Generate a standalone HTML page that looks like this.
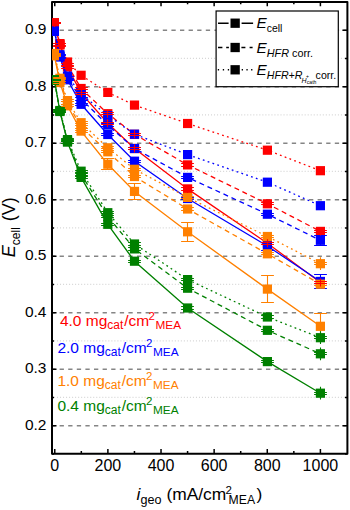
<!DOCTYPE html>
<html><head><meta charset="utf-8">
<style>
html,body{margin:0;padding:0;background:#fff;}
body{width:350px;height:510px;overflow:hidden;position:relative;}
svg{position:absolute;left:0;top:0;}
text{font-family:"Liberation Sans",sans-serif;}
</style></head><body>
<svg width="350" height="510" viewBox="0 0 350 510">
<defs><clipPath id="pc"><rect x="52" y="2" width="295.4" height="451.8"/></clipPath></defs>
<rect width="350" height="510" fill="#fff"/>
<line x1="51" y1="425.7" x2="346.4" y2="425.7" stroke="#858585" stroke-width="1.5" stroke-dasharray="4.3,4.3"/>
<line x1="51" y1="369.2" x2="346.4" y2="369.2" stroke="#858585" stroke-width="1.5" stroke-dasharray="4.3,4.3"/>
<line x1="51" y1="312.7" x2="346.4" y2="312.7" stroke="#858585" stroke-width="1.5" stroke-dasharray="4.3,4.3"/>
<line x1="51" y1="256.2" x2="346.4" y2="256.2" stroke="#858585" stroke-width="1.5" stroke-dasharray="4.3,4.3"/>
<line x1="51" y1="199.7" x2="346.4" y2="199.7" stroke="#858585" stroke-width="1.5" stroke-dasharray="4.3,4.3"/>
<line x1="51" y1="143.2" x2="346.4" y2="143.2" stroke="#858585" stroke-width="1.5" stroke-dasharray="4.3,4.3"/>
<line x1="51" y1="86.7" x2="346.4" y2="86.7" stroke="#858585" stroke-width="1.5" stroke-dasharray="4.3,4.3"/>
<line x1="51" y1="30.2" x2="346.4" y2="30.2" stroke="#858585" stroke-width="1.5" stroke-dasharray="4.3,4.3"/>
<line x1="54" y1="397.45" x2="346.4" y2="397.45" stroke="#d6d6d6" stroke-width="1.2" stroke-dasharray="1,2.02"/>
<line x1="54" y1="340.95" x2="346.4" y2="340.95" stroke="#d6d6d6" stroke-width="1.2" stroke-dasharray="1,2.02"/>
<line x1="54" y1="284.45" x2="346.4" y2="284.45" stroke="#d6d6d6" stroke-width="1.2" stroke-dasharray="1,2.02"/>
<line x1="54" y1="227.95" x2="346.4" y2="227.95" stroke="#d6d6d6" stroke-width="1.2" stroke-dasharray="1,2.02"/>
<line x1="54" y1="171.45" x2="346.4" y2="171.45" stroke="#d6d6d6" stroke-width="1.2" stroke-dasharray="1,2.02"/>
<line x1="54" y1="114.95" x2="346.4" y2="114.95" stroke="#d6d6d6" stroke-width="1.2" stroke-dasharray="1,2.02"/>
<line x1="54" y1="58.45" x2="346.4" y2="58.45" stroke="#d6d6d6" stroke-width="1.2" stroke-dasharray="1,2.02"/>
<rect x="52" y="2" width="295.4" height="451.8" fill="none" stroke="#000" stroke-width="2" stroke-linejoin="round"/><path d="M54.76 453.8v-4.7M54.76 2v4.3M81.32 453.8v-2.8M81.32 2v2.2M107.89 453.8v-4.7M107.89 2v4.3M134.45 453.8v-2.8M134.45 2v2.2M161.02 453.8v-4.7M161.02 2v4.3M187.58 453.8v-2.8M187.58 2v2.2M214.14 453.8v-4.7M214.14 2v4.3M240.71 453.8v-2.8M240.71 2v2.2M267.27 453.8v-4.7M267.27 2v4.3M293.84 453.8v-2.8M293.84 2v2.2M320.4 453.8v-4.7M320.4 2v4.3M52 453.95h2M347.4 453.95h-2.4M52 425.7h4.5M347.4 425.7h-5M52 397.45h2M347.4 397.45h-2.4M52 369.2h4.5M347.4 369.2h-5M52 340.95h2M347.4 340.95h-2.4M52 312.7h4.5M347.4 312.7h-5M52 284.45h2M347.4 284.45h-2.4M52 256.2h4.5M347.4 256.2h-5M52 227.95h2M347.4 227.95h-2.4M52 199.7h4.5M347.4 199.7h-5M52 171.45h2M347.4 171.45h-2.4M52 143.2h4.5M347.4 143.2h-5M52 114.95h2M347.4 114.95h-2.4M52 86.7h4.5M347.4 86.7h-5M52 58.45h2M347.4 58.45h-2.4M52 30.2h4.5M347.4 30.2h-5" stroke="#000" stroke-width="1.5" fill="none"/>
<g clip-path="url(#pc)">
<polyline points="54.4,22.9 59.9,43.6 67.5,62 81.1,75.3 107.8,92.4 134.5,105.1 187.6,123.5 267.4,150.2 320.4,170.7" fill="none" stroke="#ff0000" stroke-width="1.3" stroke-dasharray="1.8,3.3"/>
<polyline points="54.4,22.9 59.9,44.3 67.5,65 81.1,88.5 107.8,113.7 134.5,134.3 187.6,164.9 267.4,203.8 320.4,231.4" fill="none" stroke="#ff0000" stroke-width="1.3" stroke-dasharray="5,3.8"/>
<polyline points="54.4,23 59.9,45 67.5,67 81.1,93.1 107.8,123.3 134.5,148.5 187.6,188.9 267.4,243.2 320.4,282.45" fill="none" stroke="#ff0000" stroke-width="1.3"/>
<rect x="49.8" y="18.3" width="9.2" height="9.2" fill="#ff0000"/>
<rect x="55.3" y="39" width="9.2" height="9.2" fill="#ff0000"/>
<rect x="62.9" y="57.4" width="9.2" height="9.2" fill="#ff0000"/>
<rect x="76.5" y="70.7" width="9.2" height="9.2" fill="#ff0000"/>
<rect x="103.2" y="87.8" width="9.2" height="9.2" fill="#ff0000"/>
<rect x="129.9" y="100.5" width="9.2" height="9.2" fill="#ff0000"/>
<rect x="183" y="118.9" width="9.2" height="9.2" fill="#ff0000"/>
<rect x="262.8" y="145.6" width="9.2" height="9.2" fill="#ff0000"/>
<rect x="315.8" y="166.1" width="9.2" height="9.2" fill="#ff0000"/>
<rect x="49.8" y="18.3" width="9.2" height="9.2" fill="#ff0000"/>
<rect x="55.3" y="39.7" width="9.2" height="9.2" fill="#ff0000"/>
<rect x="62.9" y="60.4" width="9.2" height="9.2" fill="#ff0000"/>
<rect x="76.5" y="83.9" width="9.2" height="9.2" fill="#ff0000"/>
<rect x="103.2" y="109.1" width="9.2" height="9.2" fill="#ff0000"/>
<rect x="129.9" y="129.7" width="9.2" height="9.2" fill="#ff0000"/>
<rect x="183" y="160.3" width="9.2" height="9.2" fill="#ff0000"/>
<rect x="262.8" y="199.2" width="9.2" height="9.2" fill="#ff0000"/>
<rect x="315.8" y="226.8" width="9.2" height="9.2" fill="#ff0000"/>
<rect x="49.8" y="18.4" width="9.2" height="9.2" fill="#ff0000"/>
<rect x="55.3" y="40.4" width="9.2" height="9.2" fill="#ff0000"/>
<rect x="62.9" y="62.4" width="9.2" height="9.2" fill="#ff0000"/>
<rect x="76.5" y="88.5" width="9.2" height="9.2" fill="#ff0000"/>
<rect x="103.2" y="118.7" width="9.2" height="9.2" fill="#ff0000"/>
<rect x="129.9" y="143.9" width="9.2" height="9.2" fill="#ff0000"/>
<rect x="183" y="184.3" width="9.2" height="9.2" fill="#ff0000"/>
<rect x="262.8" y="238.6" width="9.2" height="9.2" fill="#ff0000"/>
<rect x="315.8" y="277.85" width="9.2" height="9.2" fill="#ff0000"/>
<polyline points="54.4,31.3 59.9,54.7 67.5,76.1 81.1,94 107.8,115.6 134.5,134.2 187.6,154.6 267.4,182.2 320.4,205.7" fill="none" stroke="#0000ff" stroke-width="1.3" stroke-dasharray="1.8,3.3"/>
<polyline points="54.4,31.3 59.9,56 67.5,78 81.1,99 107.8,125 134.5,148.5 187.6,177.4 267.4,214.2 320.4,240.3" fill="none" stroke="#0000ff" stroke-width="1.3" stroke-dasharray="5,3.8"/>
<polyline points="54.4,31.3 59.9,57 67.5,79.8 81.1,104.3 107.8,134.5 134.5,161.2 187.6,198.5 267.4,246 320.4,281.45" fill="none" stroke="#0000ff" stroke-width="1.3"/>
<rect x="49.8" y="26.7" width="9.2" height="9.2" fill="#0000ff"/>
<rect x="55.3" y="50.1" width="9.2" height="9.2" fill="#0000ff"/>
<rect x="62.9" y="71.5" width="9.2" height="9.2" fill="#0000ff"/>
<rect x="76.5" y="89.4" width="9.2" height="9.2" fill="#0000ff"/>
<rect x="103.2" y="111" width="9.2" height="9.2" fill="#0000ff"/>
<rect x="129.9" y="129.6" width="9.2" height="9.2" fill="#0000ff"/>
<rect x="183" y="150" width="9.2" height="9.2" fill="#0000ff"/>
<rect x="262.8" y="177.6" width="9.2" height="9.2" fill="#0000ff"/>
<rect x="315.8" y="201.1" width="9.2" height="9.2" fill="#0000ff"/>
<rect x="49.8" y="26.7" width="9.2" height="9.2" fill="#0000ff"/>
<rect x="55.3" y="51.4" width="9.2" height="9.2" fill="#0000ff"/>
<rect x="62.9" y="73.4" width="9.2" height="9.2" fill="#0000ff"/>
<rect x="76.5" y="94.4" width="9.2" height="9.2" fill="#0000ff"/>
<rect x="103.2" y="120.4" width="9.2" height="9.2" fill="#0000ff"/>
<rect x="129.9" y="143.9" width="9.2" height="9.2" fill="#0000ff"/>
<rect x="183" y="172.8" width="9.2" height="9.2" fill="#0000ff"/>
<rect x="262.8" y="209.6" width="9.2" height="9.2" fill="#0000ff"/>
<rect x="315.8" y="235.7" width="9.2" height="9.2" fill="#0000ff"/>
<rect x="49.8" y="26.7" width="9.2" height="9.2" fill="#0000ff"/>
<rect x="55.3" y="52.4" width="9.2" height="9.2" fill="#0000ff"/>
<rect x="62.9" y="75.2" width="9.2" height="9.2" fill="#0000ff"/>
<rect x="76.5" y="99.7" width="9.2" height="9.2" fill="#0000ff"/>
<rect x="103.2" y="129.9" width="9.2" height="9.2" fill="#0000ff"/>
<rect x="129.9" y="156.6" width="9.2" height="9.2" fill="#0000ff"/>
<rect x="183" y="193.9" width="9.2" height="9.2" fill="#0000ff"/>
<rect x="262.8" y="241.4" width="9.2" height="9.2" fill="#0000ff"/>
<rect x="315.8" y="276.85" width="9.2" height="9.2" fill="#0000ff"/>
<path d="M59.5 54.5V57.5M53.1 54.5h12.8M53.1 57.5h12.8" stroke="#0000ff" stroke-width="1.1" fill="none"/>
<path d="M67.5 76.5V79.5M61.1 76.5h12.8M61.1 79.5h12.8" stroke="#0000ff" stroke-width="1.1" fill="none"/>
<path d="M81.5 97.5V100.5M75.1 97.5h12.8M75.1 100.5h12.8" stroke="#0000ff" stroke-width="1.1" fill="none"/>
<path d="M107.5 123.5V126.5M101.1 123.5h12.8M101.1 126.5h12.8" stroke="#0000ff" stroke-width="1.1" fill="none"/>
<path d="M134.5 147.5V149.5M128.1 147.5h12.8M128.1 149.5h12.8" stroke="#0000ff" stroke-width="1.1" fill="none"/>
<path d="M187.5 176.5V178.5M181.1 176.5h12.8M181.1 178.5h12.8" stroke="#0000ff" stroke-width="1.1" fill="none"/>
<path d="M267.5 213.5V215.5M261.1 213.5h12.8M261.1 215.5h12.8" stroke="#0000ff" stroke-width="1.1" fill="none"/>
<path d="M320.5 235.5V245.5M314.1 235.5h12.8M314.1 245.5h12.8" stroke="#0000ff" stroke-width="1.1" fill="none"/>
<path d="M59.5 55.5V58.5M53.1 55.5h12.8M53.1 58.5h12.8" stroke="#0000ff" stroke-width="1.1" fill="none"/>
<path d="M67.5 78.5V80.5M61.1 78.5h12.8M61.1 80.5h12.8" stroke="#0000ff" stroke-width="1.1" fill="none"/>
<path d="M81.5 103.5V105.5M75.1 103.5h12.8M75.1 105.5h12.8" stroke="#0000ff" stroke-width="1.1" fill="none"/>
<path d="M107.5 133.5V135.5M101.1 133.5h12.8M101.1 135.5h12.8" stroke="#0000ff" stroke-width="1.1" fill="none"/>
<path d="M134.5 160.5V162.5M128.1 160.5h12.8M128.1 162.5h12.8" stroke="#0000ff" stroke-width="1.1" fill="none"/>
<path d="M187.5 197.5V199.5M181.1 197.5h12.8M181.1 199.5h12.8" stroke="#0000ff" stroke-width="1.1" fill="none"/>
<path d="M267.5 242.5V250.5M261.1 242.5h12.8M261.1 250.5h12.8" stroke="#0000ff" stroke-width="1.1" fill="none"/>
<path d="M320.5 274.5V288.5M314.1 274.5h12.8M314.1 288.5h12.8" stroke="#0000ff" stroke-width="1.1" fill="none"/>
<polyline points="54.4,53.5 59.9,78.3 67.5,100.6 81.1,122.7 107.8,147.8 134.5,169.3 187.6,197.4 267.4,236.5 320.4,263.7" fill="none" stroke="#ff8000" stroke-width="1.3" stroke-dasharray="1.8,3.3"/>
<polyline points="54.4,55 59.9,80 67.5,103 81.1,127 107.8,151.8 134.5,176.5 187.6,209 267.4,253.8 320.4,284.2" fill="none" stroke="#ff8000" stroke-width="1.3" stroke-dasharray="5,3.8"/>
<polyline points="54.4,55.8 59.9,82.5 67.5,105.8 81.1,131.1 107.8,164.2 134.5,191.4 187.6,231.8 267.4,289.1 320.4,326.3" fill="none" stroke="#ff8000" stroke-width="1.3"/>
<rect x="49.8" y="48.9" width="9.2" height="9.2" fill="#ff8000"/>
<rect x="55.3" y="73.7" width="9.2" height="9.2" fill="#ff8000"/>
<rect x="62.9" y="96" width="9.2" height="9.2" fill="#ff8000"/>
<rect x="76.5" y="118.1" width="9.2" height="9.2" fill="#ff8000"/>
<rect x="103.2" y="143.2" width="9.2" height="9.2" fill="#ff8000"/>
<rect x="129.9" y="164.7" width="9.2" height="9.2" fill="#ff8000"/>
<rect x="183" y="192.8" width="9.2" height="9.2" fill="#ff8000"/>
<rect x="262.8" y="231.9" width="9.2" height="9.2" fill="#ff8000"/>
<rect x="315.8" y="259.1" width="9.2" height="9.2" fill="#ff8000"/>
<rect x="49.8" y="50.4" width="9.2" height="9.2" fill="#ff8000"/>
<rect x="55.3" y="75.4" width="9.2" height="9.2" fill="#ff8000"/>
<rect x="62.9" y="98.4" width="9.2" height="9.2" fill="#ff8000"/>
<rect x="76.5" y="122.4" width="9.2" height="9.2" fill="#ff8000"/>
<rect x="103.2" y="147.2" width="9.2" height="9.2" fill="#ff8000"/>
<rect x="129.9" y="171.9" width="9.2" height="9.2" fill="#ff8000"/>
<rect x="183" y="204.4" width="9.2" height="9.2" fill="#ff8000"/>
<rect x="262.8" y="249.2" width="9.2" height="9.2" fill="#ff8000"/>
<rect x="315.8" y="279.6" width="9.2" height="9.2" fill="#ff8000"/>
<rect x="49.8" y="51.2" width="9.2" height="9.2" fill="#ff8000"/>
<rect x="55.3" y="77.9" width="9.2" height="9.2" fill="#ff8000"/>
<rect x="62.9" y="101.2" width="9.2" height="9.2" fill="#ff8000"/>
<rect x="76.5" y="126.5" width="9.2" height="9.2" fill="#ff8000"/>
<rect x="103.2" y="159.6" width="9.2" height="9.2" fill="#ff8000"/>
<rect x="129.9" y="186.8" width="9.2" height="9.2" fill="#ff8000"/>
<rect x="183" y="227.2" width="9.2" height="9.2" fill="#ff8000"/>
<rect x="262.8" y="284.5" width="9.2" height="9.2" fill="#ff8000"/>
<rect x="315.8" y="321.7" width="9.2" height="9.2" fill="#ff8000"/>
<polyline points="54.4,80 59.9,110.5 67.5,139.6 81.1,171.2 107.8,212.7 134.5,244 187.6,279.6 267.4,317 320.4,337.7" fill="none" stroke="#008000" stroke-width="1.3" stroke-dasharray="1.8,3.3"/>
<polyline points="54.4,80 59.9,111 67.5,140.8 81.1,174.5 107.8,216.5 134.5,248.9 187.6,288.2 267.4,330.3 320.4,353.8" fill="none" stroke="#008000" stroke-width="1.3" stroke-dasharray="5,3.8"/>
<polyline points="54.4,80 59.9,111.5 67.5,142.1 81.1,177.4 107.8,224.3 134.5,261.2 187.6,308 267.4,361.6 320.4,393.2" fill="none" stroke="#008000" stroke-width="1.3"/>
<rect x="49.8" y="75.4" width="9.2" height="9.2" fill="#008000"/>
<rect x="55.3" y="105.9" width="9.2" height="9.2" fill="#008000"/>
<rect x="62.9" y="135" width="9.2" height="9.2" fill="#008000"/>
<rect x="76.5" y="166.6" width="9.2" height="9.2" fill="#008000"/>
<rect x="103.2" y="208.1" width="9.2" height="9.2" fill="#008000"/>
<rect x="129.9" y="239.4" width="9.2" height="9.2" fill="#008000"/>
<rect x="183" y="275" width="9.2" height="9.2" fill="#008000"/>
<rect x="262.8" y="312.4" width="9.2" height="9.2" fill="#008000"/>
<rect x="315.8" y="333.1" width="9.2" height="9.2" fill="#008000"/>
<rect x="49.8" y="75.4" width="9.2" height="9.2" fill="#008000"/>
<rect x="55.3" y="106.4" width="9.2" height="9.2" fill="#008000"/>
<rect x="62.9" y="136.2" width="9.2" height="9.2" fill="#008000"/>
<rect x="76.5" y="169.9" width="9.2" height="9.2" fill="#008000"/>
<rect x="103.2" y="211.9" width="9.2" height="9.2" fill="#008000"/>
<rect x="129.9" y="244.3" width="9.2" height="9.2" fill="#008000"/>
<rect x="183" y="283.6" width="9.2" height="9.2" fill="#008000"/>
<rect x="262.8" y="325.7" width="9.2" height="9.2" fill="#008000"/>
<rect x="315.8" y="349.2" width="9.2" height="9.2" fill="#008000"/>
<rect x="49.8" y="75.4" width="9.2" height="9.2" fill="#008000"/>
<rect x="55.3" y="106.9" width="9.2" height="9.2" fill="#008000"/>
<rect x="62.9" y="137.5" width="9.2" height="9.2" fill="#008000"/>
<rect x="76.5" y="172.8" width="9.2" height="9.2" fill="#008000"/>
<rect x="103.2" y="219.7" width="9.2" height="9.2" fill="#008000"/>
<rect x="129.9" y="256.6" width="9.2" height="9.2" fill="#008000"/>
<rect x="183" y="303.4" width="9.2" height="9.2" fill="#008000"/>
<rect x="262.8" y="357" width="9.2" height="9.2" fill="#008000"/>
<rect x="315.8" y="388.6" width="9.2" height="9.2" fill="#008000"/>
<path d="M54.5 53.5V53.5M48.1 53.5h12.8M48.1 53.5h12.8" stroke="#ff8000" stroke-width="1.1" fill="none"/>
<path d="M59.5 77.5V79.5M53.1 77.5h12.8M53.1 79.5h12.8" stroke="#ff8000" stroke-width="1.1" fill="none"/>
<path d="M67.5 99.5V101.5M61.1 99.5h12.8M61.1 101.5h12.8" stroke="#ff8000" stroke-width="1.1" fill="none"/>
<path d="M81.5 121.5V123.5M75.1 121.5h12.8M75.1 123.5h12.8" stroke="#ff8000" stroke-width="1.1" fill="none"/>
<path d="M107.5 146.5V148.5M101.1 146.5h12.8M101.1 148.5h12.8" stroke="#ff8000" stroke-width="1.1" fill="none"/>
<path d="M134.5 168.5V170.5M128.1 168.5h12.8M128.1 170.5h12.8" stroke="#ff8000" stroke-width="1.1" fill="none"/>
<path d="M187.5 196.5V198.5M181.1 196.5h12.8M181.1 198.5h12.8" stroke="#ff8000" stroke-width="1.1" fill="none"/>
<path d="M267.5 235.5V237.5M261.1 235.5h12.8M261.1 237.5h12.8" stroke="#ff8000" stroke-width="1.1" fill="none"/>
<path d="M320.5 262.5V264.5M314.1 262.5h12.8M314.1 264.5h12.8M320.5 257.3v12.8" stroke="#ff8000" stroke-width="1.1" fill="none"/>
<path d="M54.5 54.5V55.5M48.1 54.5h12.8M48.1 55.5h12.8" stroke="#ff8000" stroke-width="1.1" fill="none"/>
<path d="M59.5 78.5V81.5M53.1 78.5h12.8M53.1 81.5h12.8" stroke="#ff8000" stroke-width="1.1" fill="none"/>
<path d="M67.5 101.5V104.5M61.1 101.5h12.8M61.1 104.5h12.8" stroke="#ff8000" stroke-width="1.1" fill="none"/>
<path d="M81.5 125.5V128.5M75.1 125.5h12.8M75.1 128.5h12.8" stroke="#ff8000" stroke-width="1.1" fill="none"/>
<path d="M107.5 150.5V152.5M101.1 150.5h12.8M101.1 152.5h12.8" stroke="#ff8000" stroke-width="1.1" fill="none"/>
<path d="M134.5 175.5V177.5M128.1 175.5h12.8M128.1 177.5h12.8" stroke="#ff8000" stroke-width="1.1" fill="none"/>
<path d="M187.5 207.5V210.5M181.1 207.5h12.8M181.1 210.5h12.8" stroke="#ff8000" stroke-width="1.1" fill="none"/>
<path d="M267.5 252.5V254.5M261.1 252.5h12.8M261.1 254.5h12.8" stroke="#ff8000" stroke-width="1.1" fill="none"/>
<path d="M320.5 283.5V285.5M314.1 283.5h12.8M314.1 285.5h12.8" stroke="#ff8000" stroke-width="1.1" fill="none"/>
<path d="M54.5 55.5V56.5M48.1 55.5h12.8M48.1 56.5h12.8" stroke="#ff8000" stroke-width="1.1" fill="none"/>
<path d="M59.5 81.5V83.5M53.1 81.5h12.8M53.1 83.5h12.8" stroke="#ff8000" stroke-width="1.1" fill="none"/>
<path d="M67.5 104.5V106.5M61.1 104.5h12.8M61.1 106.5h12.8" stroke="#ff8000" stroke-width="1.1" fill="none"/>
<path d="M81.5 130.5V132.5M75.1 130.5h12.8M75.1 132.5h12.8" stroke="#ff8000" stroke-width="1.1" fill="none"/>
<path d="M107.5 158.5V169.5M101.1 158.5h12.8M101.1 169.5h12.8" stroke="#ff8000" stroke-width="1.1" fill="none"/>
<path d="M134.5 183.5V199.5M128.1 183.5h12.8M128.1 199.5h12.8" stroke="#ff8000" stroke-width="1.1" fill="none"/>
<path d="M187.5 222.5V241.5M181.1 222.5h12.8M181.1 241.5h12.8" stroke="#ff8000" stroke-width="1.1" fill="none"/>
<path d="M267.5 275.5V302.5M261.1 275.5h12.8M261.1 302.5h12.8" stroke="#ff8000" stroke-width="1.1" fill="none"/>
<path d="M320.5 313.5V338.5M314.1 313.5h12.8M314.1 338.5h12.8" stroke="#ff8000" stroke-width="1.1" fill="none"/>
<path d="M54.5 79.5V80.5M48.1 79.5h12.8M48.1 80.5h12.8" stroke="#008000" stroke-width="1.1" fill="none"/>
<path d="M59.5 109.5V111.5M53.1 109.5h12.8M53.1 111.5h12.8" stroke="#008000" stroke-width="1.1" fill="none"/>
<path d="M67.5 138.5V140.5M61.1 138.5h12.8M61.1 140.5h12.8" stroke="#008000" stroke-width="1.1" fill="none"/>
<path d="M81.5 170.5V172.5M75.1 170.5h12.8M75.1 172.5h12.8" stroke="#008000" stroke-width="1.1" fill="none"/>
<path d="M107.5 211.5V213.5M101.1 211.5h12.8M101.1 213.5h12.8" stroke="#008000" stroke-width="1.1" fill="none"/>
<path d="M134.5 242.5V245.5M128.1 242.5h12.8M128.1 245.5h12.8" stroke="#008000" stroke-width="1.1" fill="none"/>
<path d="M187.5 278.5V280.5M181.1 278.5h12.8M181.1 280.5h12.8" stroke="#008000" stroke-width="1.1" fill="none"/>
<path d="M267.5 315.5V318.5M261.1 315.5h12.8M261.1 318.5h12.8" stroke="#008000" stroke-width="1.1" fill="none"/>
<path d="M320.5 336.5V338.5M314.1 336.5h12.8M314.1 338.5h12.8M320.5 331.3v12.8" stroke="#008000" stroke-width="1.1" fill="none"/>
<path d="M54.5 79.5V80.5M48.1 79.5h12.8M48.1 80.5h12.8" stroke="#008000" stroke-width="1.1" fill="none"/>
<path d="M59.5 109.5V112.5M53.1 109.5h12.8M53.1 112.5h12.8" stroke="#008000" stroke-width="1.1" fill="none"/>
<path d="M67.5 139.5V141.5M61.1 139.5h12.8M61.1 141.5h12.8" stroke="#008000" stroke-width="1.1" fill="none"/>
<path d="M81.5 173.5V175.5M75.1 173.5h12.8M75.1 175.5h12.8" stroke="#008000" stroke-width="1.1" fill="none"/>
<path d="M107.5 215.5V217.5M101.1 215.5h12.8M101.1 217.5h12.8" stroke="#008000" stroke-width="1.1" fill="none"/>
<path d="M134.5 247.5V250.5M128.1 247.5h12.8M128.1 250.5h12.8" stroke="#008000" stroke-width="1.1" fill="none"/>
<path d="M187.5 287.5V289.5M181.1 287.5h12.8M181.1 289.5h12.8" stroke="#008000" stroke-width="1.1" fill="none"/>
<path d="M267.5 329.5V331.5M261.1 329.5h12.8M261.1 331.5h12.8" stroke="#008000" stroke-width="1.1" fill="none"/>
<path d="M320.5 352.5V354.5M314.1 352.5h12.8M314.1 354.5h12.8M320.5 347.4v12.8" stroke="#008000" stroke-width="1.1" fill="none"/>
<path d="M54.5 79.5V80.5M48.1 79.5h12.8M48.1 80.5h12.8" stroke="#008000" stroke-width="1.1" fill="none"/>
<path d="M59.5 110.5V112.5M53.1 110.5h12.8M53.1 112.5h12.8" stroke="#008000" stroke-width="1.1" fill="none"/>
<path d="M67.5 141.5V143.5M61.1 141.5h12.8M61.1 143.5h12.8" stroke="#008000" stroke-width="1.1" fill="none"/>
<path d="M81.5 176.5V178.5M75.1 176.5h12.8M75.1 178.5h12.8" stroke="#008000" stroke-width="1.1" fill="none"/>
<path d="M107.5 223.5V225.5M101.1 223.5h12.8M101.1 225.5h12.8" stroke="#008000" stroke-width="1.1" fill="none"/>
<path d="M134.5 260.5V262.5M128.1 260.5h12.8M128.1 262.5h12.8" stroke="#008000" stroke-width="1.1" fill="none"/>
<path d="M187.5 306.5V309.5M181.1 306.5h12.8M181.1 309.5h12.8" stroke="#008000" stroke-width="1.1" fill="none"/>
<path d="M267.5 360.5V362.5M261.1 360.5h12.8M261.1 362.5h12.8" stroke="#008000" stroke-width="1.1" fill="none"/>
<path d="M320.5 392.5V394.5M314.1 392.5h12.8M314.1 394.5h12.8M320.5 386.8v12.8" stroke="#008000" stroke-width="1.1" fill="none"/>
<path d="M54.5 22.5V23.5M48.1 22.5h12.8M48.1 23.5h12.8M54.5 18.9v8" stroke="#ff0000" stroke-width="1.1" fill="none"/>
<path d="M59.5 43.5V45.5M53.1 43.5h12.8M53.1 45.5h12.8M59.5 40.3v8" stroke="#ff0000" stroke-width="1.1" fill="none"/>
<path d="M67.5 63.5V66.5M61.1 63.5h12.8M61.1 66.5h12.8M67.5 61v8" stroke="#ff0000" stroke-width="1.1" fill="none"/>
<path d="M81.5 87.5V89.5M75.1 87.5h12.8M75.1 89.5h12.8M81.5 84.5v8" stroke="#ff0000" stroke-width="1.1" fill="none"/>
<path d="M107.5 112.5V114.5M101.1 112.5h12.8M101.1 114.5h12.8M107.5 109.7v8" stroke="#ff0000" stroke-width="1.1" fill="none"/>
<path d="M134.5 133.5V135.5M128.1 133.5h12.8M128.1 135.5h12.8M134.5 130.3v8" stroke="#ff0000" stroke-width="1.1" fill="none"/>
<path d="M187.5 163.5V166.5M181.1 163.5h12.8M181.1 166.5h12.8M187.5 160.9v8" stroke="#ff0000" stroke-width="1.1" fill="none"/>
<path d="M267.5 202.5V204.5M261.1 202.5h12.8M261.1 204.5h12.8M267.5 199.8v8" stroke="#ff0000" stroke-width="1.1" fill="none"/>
<path d="M320.5 230.5V232.5M314.1 230.5h12.8M314.1 232.5h12.8M320.5 227.4v8" stroke="#ff0000" stroke-width="1.1" fill="none"/>
<path d="M54.5 22.5V23.5M48.1 22.5h12.8M48.1 23.5h12.8M54.5 19v8" stroke="#ff0000" stroke-width="1.1" fill="none"/>
<path d="M59.5 43.5V46.5M53.1 43.5h12.8M53.1 46.5h12.8M59.5 41v8" stroke="#ff0000" stroke-width="1.1" fill="none"/>
<path d="M67.5 65.5V68.5M61.1 65.5h12.8M61.1 68.5h12.8M67.5 63v8" stroke="#ff0000" stroke-width="1.1" fill="none"/>
<path d="M81.5 92.5V94.5M75.1 92.5h12.8M75.1 94.5h12.8M81.5 89.1v8" stroke="#ff0000" stroke-width="1.1" fill="none"/>
<path d="M107.5 122.5V124.5M101.1 122.5h12.8M101.1 124.5h12.8M107.5 119.3v8" stroke="#ff0000" stroke-width="1.1" fill="none"/>
<path d="M134.5 147.5V149.5M128.1 147.5h12.8M128.1 149.5h12.8M134.5 144.5v8" stroke="#ff0000" stroke-width="1.1" fill="none"/>
<path d="M187.5 187.5V190.5M181.1 187.5h12.8M181.1 190.5h12.8M187.5 184.9v8" stroke="#ff0000" stroke-width="1.1" fill="none"/>
<path d="M267.5 242.5V244.5M261.1 242.5h12.8M261.1 244.5h12.8M267.5 239.2v8" stroke="#ff0000" stroke-width="1.1" fill="none"/>
<path d="M320.5 281.5V283.5M314.1 281.5h12.8M314.1 283.5h12.8M320.5 278.45v8" stroke="#ff0000" stroke-width="1.1" fill="none"/>
</g>
<rect x="216.1" y="11" width="122.2" height="75.7" fill="#fff" stroke="#000" stroke-width="1.2"/>
<path d="M218 23.2H228.6M241.6 23.2H253.1" stroke="#000" stroke-width="1.4" fill="none"/>
<rect x="230.5" y="18.55" width="9.3" height="9.3" fill="#000"/>
<text x="256.4" y="28.3" font-size="15.3" font-style="italic">E</text>
<path d="M218 47.5H222.4M226.2 47.5H228.9M241.4 47.5H245.4M249.6 47.5H252.6" stroke="#000" stroke-width="1.4" fill="none"/>
<rect x="230.5" y="42.85" width="9.3" height="9.3" fill="#000"/>
<text x="256.4" y="52.6" font-size="15.3" font-style="italic">E</text>
<path d="M217.8 69.8H219.1M222.8 69.8H224.1M227.8 69.8H229.1M241.7 69.8H243M246.4 69.8H247.7M251.1 69.8H252.4" stroke="#000" stroke-width="1.4" fill="none"/>
<rect x="230.5" y="65.15" width="9.3" height="9.3" fill="#000"/>
<text x="256.4" y="74.9" font-size="15.3" font-style="italic">E</text>
<text x="266.8" y="32.05" font-size="10.4">cell</text>
<text x="266.8" y="56.9" font-size="10.8"><tspan font-style="italic">HFR</tspan> corr.</text>
<text x="266.8" y="79.2" font-size="10.6" font-style="italic">HFR+R</text>
<text x="301.4" y="83.4" font-size="7" font-style="italic">H</text>
<text x="305.9" y="78.4" font-size="5">+</text>
<text x="306.8" y="84.3" font-size="5.1">cath</text>
<text x="315.6" y="79.2" font-size="10.6">corr.</text>
<g font-size="16" fill="#000">
<text x="46.5" y="429.8" text-anchor="end" font-size="15.5">0.2</text>
<text x="46.5" y="373.3" text-anchor="end" font-size="15.5">0.3</text>
<text x="46.5" y="316.8" text-anchor="end" font-size="15.5">0.4</text>
<text x="46.5" y="260.3" text-anchor="end" font-size="15.5">0.5</text>
<text x="46.5" y="203.8" text-anchor="end" font-size="15.5">0.6</text>
<text x="46.5" y="147.3" text-anchor="end" font-size="15.5">0.7</text>
<text x="46.5" y="90.8" text-anchor="end" font-size="15.5">0.8</text>
<text x="46.5" y="34.3" text-anchor="end" font-size="15.5">0.9</text>
<text x="54.76" y="471" text-anchor="middle">0</text>
<text x="107.89" y="471" text-anchor="middle">200</text>
<text x="161.02" y="471" text-anchor="middle">400</text>
<text x="214.14" y="471" text-anchor="middle">600</text>
<text x="267.27" y="471" text-anchor="middle">800</text>
<text x="320.4" y="471" text-anchor="middle">1000</text>
</g>
<text x="59.9" y="325.7" fill="#ff0000" font-size="15.5">4.0 mg</text><text x="107.3" y="329.2" fill="#ff0000" font-size="12">cat</text><text x="124.2" y="325.7" fill="#ff0000" font-size="15.5">/cm</text><text x="148.6" y="320.2" fill="#ff0000" font-size="11.5">2</text><text x="155.5" y="329.4" fill="#ff0000" font-size="11.8">MEA</text>
<text x="57.4" y="352.7" fill="#0000ff" font-size="15.5">2.0 mg</text><text x="104.8" y="356.2" fill="#0000ff" font-size="12">cat</text><text x="121.7" y="352.7" fill="#0000ff" font-size="15.5">/cm</text><text x="146.1" y="347.2" fill="#0000ff" font-size="11.5">2</text><text x="153" y="356.4" fill="#0000ff" font-size="11.8">MEA</text>
<text x="57.4" y="385.7" fill="#ff8000" font-size="15.5">1.0 mg</text><text x="104.8" y="389.2" fill="#ff8000" font-size="12">cat</text><text x="121.7" y="385.7" fill="#ff8000" font-size="15.5">/cm</text><text x="146.1" y="380.2" fill="#ff8000" font-size="11.5">2</text><text x="153" y="389.4" fill="#ff8000" font-size="11.8">MEA</text>
<text x="57.4" y="410.5" fill="#008000" font-size="15.5">0.4 mg</text><text x="104.8" y="414" fill="#008000" font-size="12">cat</text><text x="121.7" y="410.5" fill="#008000" font-size="15.5">/cm</text><text x="146.1" y="405" fill="#008000" font-size="11.5">2</text><text x="153" y="414.2" fill="#008000" font-size="11.8">MEA</text>
<text x="136.6" y="499.6" font-size="17.3" font-style="italic">i</text><text x="140.6" y="503.6" font-size="12.6">geo</text><text x="166.4" y="499.6" font-size="17.4">(mA/cm</text><text x="225.6" y="494" font-size="11.5">2</text><text x="228.6" y="504.4" font-size="12.2">MEA</text><text x="256.4" y="499.6" font-size="17.4">)</text>
<text transform="translate(14.9,257.2) rotate(-90)" font-size="18" font-style="italic">E</text><text transform="translate(20.1,245.2) rotate(-90)" font-size="12">cell</text><text transform="translate(14.9,221.2) rotate(-90)" font-size="18">(V)</text>
</svg>
</body></html>
